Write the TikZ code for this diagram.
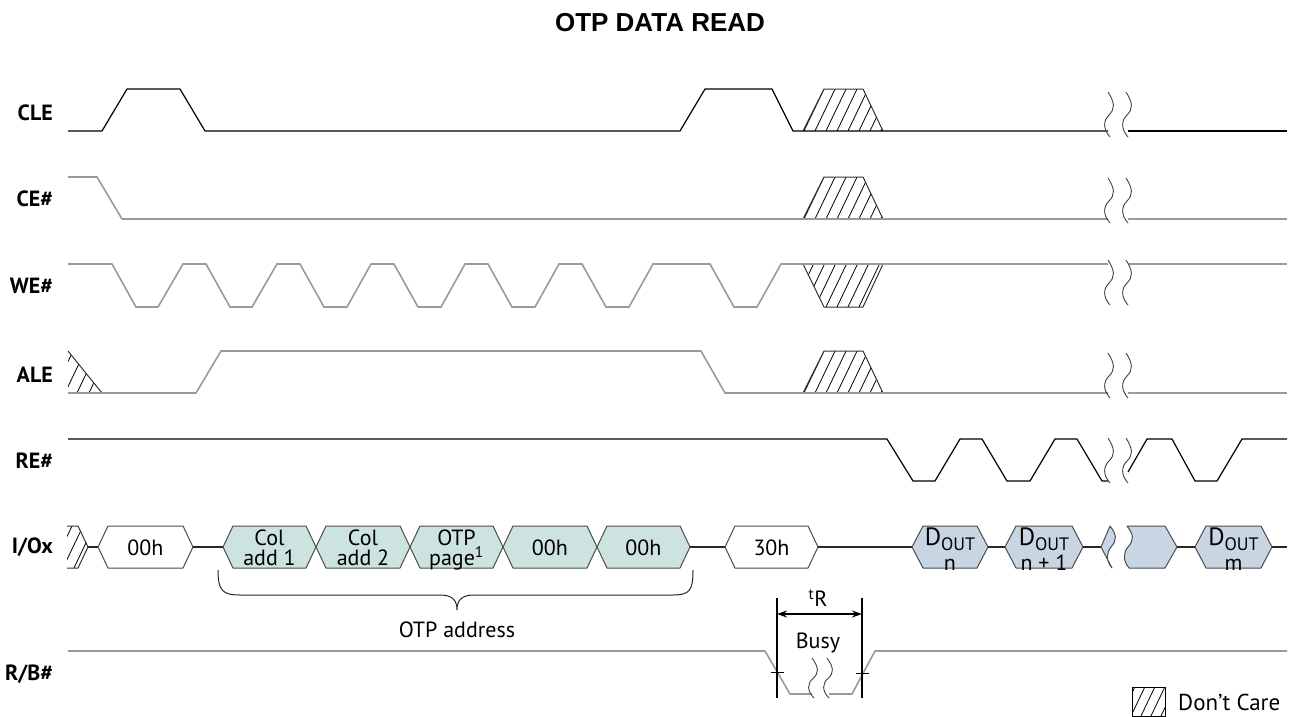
\documentclass[tikz,border=0pt]{standalone}
\usepackage{fontspec}
\setmainfont{PT Sans}
\newfontfamily\titlefont{Liberation Sans}
\usetikzlibrary{arrows.meta}
\definecolor{tealc}{HTML}{CDE3E0}
\definecolor{doutc}{HTML}{C8D5E3}
\definecolor{gsigc}{HTML}{9A9A9A}
\newcommand{\lblfont}{\fontsize{22}{24}\selectfont\bfseries}
\newcommand{\txtfont}{\fontsize{22}{24}\selectfont}
\newcommand{\celfont}{\fontsize{22}{22}\selectfont}
\newcommand{\hatchit}[3]{%
  \begin{scope}
    \clip #1;
    \foreach \hx in {#2} {\draw[hatchln] (\hx,#3+2) -- ++(22,-46);}
  \end{scope}}
\newcommand{\brk}[3]{\draw[brkln,shift={(#1,#2)},yscale=#3/45] (0,0) .. controls (7,11) and (7,17) .. (1,23) .. controls (-5,29) and (-5,37) .. (2,45);}
\newcommand{\hexcell}[3]{\filldraw[hexln,fill=#3] (#1,547) -- (#1+10,526) -- (#2-10,526) -- (#2,547) -- (#2-10,568) -- (#1+10,568) -- cycle;}
\newcommand{\dcell}[3]{\filldraw[hexln,fill=#3] (#1,547) -- (#1+11,526) -- (#2-11,526) -- (#2,547) -- (#2-11,568) -- (#1+11,568) -- cycle;}
\newcommand{\Dout}{{\fontsize{25}{25}\selectfont D}\raisebox{-5pt}{\fontsize{18}{18}\selectfont OUT}}
\tikzset{
  sig/.style={line width=1.2pt, black, line join=round},
  gsig/.style={line width=1.6pt, gsigc, line join=round},
  hexln/.style={line width=1pt, black!70, line join=round},
  ioln/.style={line width=1.1pt, black!85},
  hatchln/.style={line width=0.8pt, black},
  hatchedge/.style={line width=1pt, black!80, line join=round},
  brkln/.style={line width=0.9pt, black!75},
  lbl/.style={font=\lblfont, anchor=base east, inner sep=0pt},
  ctxt/.style={font=\celfont, anchor=base, inner sep=0pt},
  dtxt/.style={font=\celfont, anchor=base, inner sep=0pt, align=center},
  plain/.style={font=\txtfont, inner sep=0pt}
}
\begin{document}
\begin{tikzpicture}[x=1pt,y=-1pt]
\useasboundingbox (0,0) rectangle (1296,717);
% title
\node[font=\titlefont\fontsize{26}{28}\selectfont\bfseries, inner sep=0pt] (title) at (660,22.5) {OTP DATA READ};
% labels
\node[lbl] (lCLE) at (53,120) {CLE};
\node[lbl] (lCE) at (53,206) {CE\#};
\node[lbl] (lWE) at (53,293) {WE\#};
\node[lbl] (lALE) at (53,382) {ALE};
\node[lbl] (lRE) at (53,468) {RE\#};
\node[lbl] (lIO) at (53,553) {I/Ox};
\node[lbl] (lRB) at (53,680) {R/B\#};
% ---------- hatched regions
\hatchit{(803,131) -- (824,89) -- (863,89) -- (883,131) -- cycle}{770,781,...,890}{131}
\draw[hatchedge] (803,131) -- (824,89) -- (863,89) -- (883,131);
\hatchit{(803,219) -- (824,177) -- (863,177) -- (883,219) -- cycle}{770,781,...,890}{219}
\draw[hatchedge] (803,219) -- (824,177) -- (863,177) -- (883,219);
\hatchit{(803,264) -- (824,307) -- (863,307) -- (883,264) -- cycle}{770,781,...,890}{307}
\draw[hatchedge] (803,264) -- (824,307) -- (863,307) -- (883,264);
\hatchit{(803,393) -- (824,351) -- (863,351) -- (883,393) -- cycle}{770,781,...,890}{393}
\draw[hatchedge] (803,393) -- (824,351) -- (863,351) -- (883,393);
\hatchit{(68,351) -- (102,393) -- (68,393) -- cycle}{40,52,...,110}{393}
\draw[hatchedge] (68,351) -- (102,393);
% ---------- CLE
\draw[sig] (68,131) -- (102,131) -- (127,89) -- (180,89) -- (205,131) -- (680,131) -- (705,89) -- (772,89) -- (793,131) -- (1108,131);
\draw[sig] (1128,131) -- (1287,131);
\brk{1108}{92}{45} \brk{1126}{92}{45}
% ---------- CE#
\draw[gsig] (68,177) -- (97,177) -- (122,219) -- (1108,219);
\draw[gsig] (1128,219) -- (1287,219);
\brk{1108}{178}{45} \brk{1126}{178}{45}
% ---------- WE#
\draw[gsig] (68,264) -- (112,264) -- (136,307) -- (158,307) -- (183,264)
  -- (206,264) -- (230,307) -- (252,307) -- (277,264)
  -- (300,264) -- (324,307) -- (347,307) -- (371,264)
  -- (394,264) -- (418,307) -- (441,307) -- (465,264)
  -- (488,264) -- (512,307) -- (535,307) -- (559,264)
  -- (582,264) -- (606,307) -- (629,307) -- (653,264)
  -- (710,264) -- (734,307) -- (757,307) -- (781,264) -- (1108,264);
\draw[gsig] (1128,264) -- (1287,264);
\brk{1108}{260}{45} \brk{1126}{260}{45}
% ---------- ALE
\draw[gsig] (68,393) -- (196,393) -- (221,351) -- (701,351) -- (725,393) -- (1108,393);
\draw[gsig] (1128,393) -- (1287,393);
\brk{1108}{353}{45} \brk{1126}{353}{45}
% ---------- RE#
\draw[sig] (68,439) -- (887,439) -- (913,481) -- (935,481) -- (960,439)
  -- (982,439) -- (1007,481) -- (1030,481) -- (1055,439)
  -- (1077,439) -- (1102,481) -- (1108,481);
\draw[sig] (1128,472) -- (1147,439) -- (1172,439) -- (1195,481) -- (1217,481) -- (1242,439) -- (1287,439);
\brk{1108}{438}{45} \brk{1126}{438}{45}
% ---------- I/Ox
\hatchit{(67,526) -- (78,526) -- (88,547) -- (78,568) -- (67,568) -- cycle}{40,51,...,100}{568}
\draw[hatchedge] (67,526) -- (78,526) -- (88,547) -- (78,568) -- (67,568);
\draw[ioln] (88,547) -- (98,547);
\hexcell{98}{193}{white}
\node[ctxt] (c00a) at (145.5,555) {00h};
\draw[ioln] (193,547) -- (223,547);
\hexcell{223}{316}{tealc}
\hexcell{316}{410}{tealc}
\hexcell{410}{503}{tealc}
\hexcell{503}{597}{tealc}
\hexcell{597}{690}{tealc}
\node[ctxt] (ca1) at (269.5,545) {Col};
\node[ctxt] (ca1b) at (269.5,565) {add 1};
\node[ctxt] (ca2) at (363,545) {Col};
\node[ctxt] (ca2b) at (363,565) {add 2};
\node[ctxt] (cop) at (456.5,545) {OTP};
\node[ctxt] (copb) at (456.5,565) {page\textsuperscript{1}};
\node[ctxt] (c00b) at (550,555) {00h};
\node[ctxt] (c00c) at (643.5,555) {00h};
\draw[ioln] (690,547) -- (725,547);
\hexcell{725}{818}{white}
\node[ctxt] (c30) at (771.5,555) {30h};
\draw[ioln] (818,547) -- (912,547);
\dcell{912}{988}{doutc}
\node[dtxt] (dn) at (950,570) {\Dout\\[3pt]n};
\draw[ioln] (988,547) -- (1005,547);
\dcell{1005}{1083}{doutc}
\node[dtxt] (dn1) at (1044,570) {\Dout\\[3pt]n + 1};
\draw[ioln] (1083,547) -- (1101,547);
\filldraw[hexln,fill=doutc] (1101,547) -- (1110,526) .. controls (1117,535) and (1117,540) .. (1111,547) .. controls (1106,553) and (1106,561) .. (1112,568) -- cycle;
\filldraw[hexln,fill=doutc] (1127,526) .. controls (1134,535) and (1134,540) .. (1128,547) .. controls (1123,553) and (1123,561) .. (1129,568) -- (1165,568) -- (1177,547) -- (1165,526) -- cycle;
\draw[ioln] (1177,547) -- (1195,547);
\dcell{1195}{1272}{doutc}
\node[dtxt] (dm) at (1233.5,570) {\Dout\\[3pt]m};
\draw[ioln] (1272,547) -- (1287,547);
% brace
\draw[line width=1pt, black!85] (218,570) .. controls (218,590) and (222,595) .. (240,595) -- (440,595) .. controls (452,595) and (457,600) .. (457,610) .. controls (457,600) and (462,595) .. (474,595) -- (673,595) .. controls (690,595) and (693,590) .. (693,570);
\node[plain] (otpaddr) at (457,630) {OTP address};
% ---------- R/B#
\draw[gsig] (68,651) -- (765,651) -- (790,694) -- (812,694);
\draw[gsig] (829,694) -- (852,694) -- (875,651) -- (1287,651);
\brk{812}{658}{40} \brk{827}{658}{40}
\coordinate (vl) at (777,614);
\coordinate (vr) at (862,614);
\draw[line width=1.2pt] (777,598) -- (777,698);
\draw[line width=1.2pt] (862,598) -- (862,698);
\draw[line width=1.1pt, {Stealth[length=10pt,width=7pt]}-{Stealth[length=10pt,width=7pt]}] (vl) -- (vr);
\draw[line width=1pt] (771,672) -- (784,672);
\draw[line width=1pt] (856,673) -- (869,673);
\node[plain] (tr) at (818,598) {\textsuperscript{t}R};
\node[plain] (busy) at (818,643) {Busy};
% legend
\hatchit{(1132,687) rectangle (1165,716)}{1110,1120,...,1170}{716}
\draw[line width=1pt] (1132,687) rectangle (1165,716);
\node[font=\fontsize{23}{24}\selectfont, anchor=base west, inner sep=0pt] (dc) at (1178,710) {Don’t Care};
\end{tikzpicture}
\end{document}
